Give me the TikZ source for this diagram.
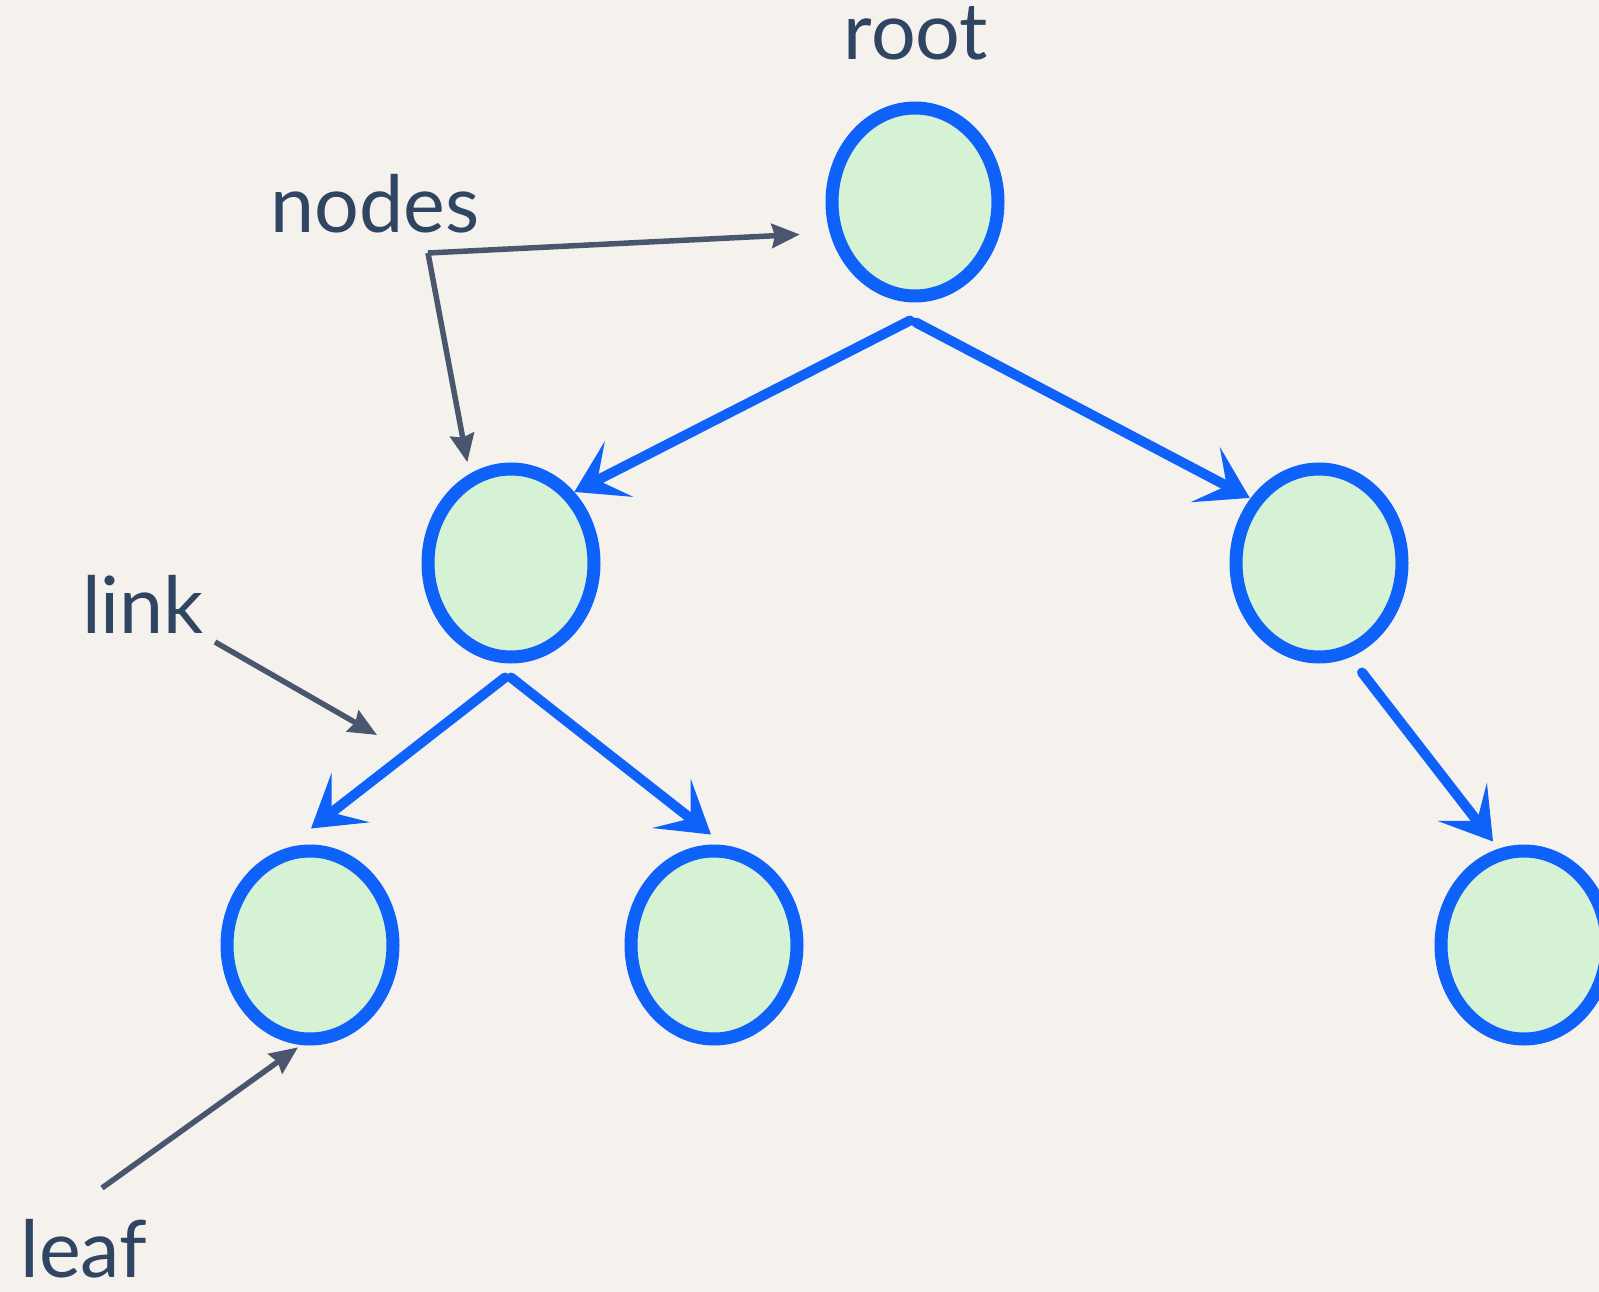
\documentclass[tikz,border=0pt]{standalone}
\usepackage{fontspec}
\setmainfont{Lato}
\usepackage{tikz}
\usetikzlibrary{positioning,arrows.meta,shapes.geometric}
\definecolor{paper}{RGB}{245,242,237}
\definecolor{pen}{RGB}{14,98,250}
\definecolor{mint}{RGB}{214,242,213}
\definecolor{ink}{RGB}{47,69,98}
\definecolor{slate}{RGB}{74,86,110}
\tikzset{treenode/.style={ellipse, draw=pen, fill=mint, line width=13pt,
    minimum width=166pt, minimum height=188pt, inner sep=0pt},
  link/.style={pen, line width=10pt, line cap=round, line join=round,
    -{Stealth[length=50pt,width=62pt,inset=24pt]}},
  note/.style={slate, line width=5.5pt,
    -{Stealth[length=28pt,width=24pt,inset=3pt]}},
  tag/.style={ink, font=\fontsize{79}{90}\selectfont, anchor=base, inner sep=0pt}
}
\begin{document}
\begin{tikzpicture}[x=1pt, y=-1pt, on grid]
  \fill[paper] (0,0) rectangle (1599,1292);
  \useasboundingbox (0,0) rectangle (1599,1292);
  % the tree
  \node[treenode] (root) at (915,202) {};
  \node[treenode] (left)  [below left=361pt and 404pt of root] {};
  \node[treenode] (right) [below right=361pt and 404pt of root] {};
  \node[treenode] (leafa) [below left=382pt and 201pt of left] {};
  \node[treenode] (leafb) [below right=382pt and 203pt of left] {};
  \node[treenode] (leafc) [below right=382pt and 205pt of right] {};
  \draw[link] ([xshift=-5pt,yshift=-18pt]root.south) -- (left.north east);
  \draw[link] ([xshift=1pt,yshift=-20pt]root.south) -- ([xshift=-6pt,yshift=-6pt]right.north west);
  \draw[link] ([xshift=-6pt,yshift=-14pt]left.south) -- ([xshift=1pt,yshift=16pt]leafa.north);
  \draw[link] ([yshift=-14pt]left.south) -- ([xshift=-3pt,yshift=10pt]leafb.north);
  \draw[link] ([xshift=43pt,yshift=-9pt]right.south) -- ([xshift=-31pt,yshift=3pt]leafc.north);
  % the labels
  \node[tag] (roottag) at (916,60) {root};
  \node[tag] (nodestag) at (375,233) {nodes};
  \node[tag] (linktag) at (143,633) {link};
  \node[tag] (leaftag) at (84,1277) {leaf};
  \coordinate (fork) at (428,253);
  \coordinate (linkstart) at (215,642);
  \coordinate (linktip) at (377,735);
  \coordinate (leafstart) at (102,1188);
  \draw[note, shorten >=30pt] (fork) -- (root.200);
  \draw[note, shorten >=12pt] (fork) -- (left.115);
  \draw[note] (linkstart) -- (linktip);
  \draw[note, shorten >=4pt] (leafstart) -- (leafa.-95);
\end{tikzpicture}
\end{document}
